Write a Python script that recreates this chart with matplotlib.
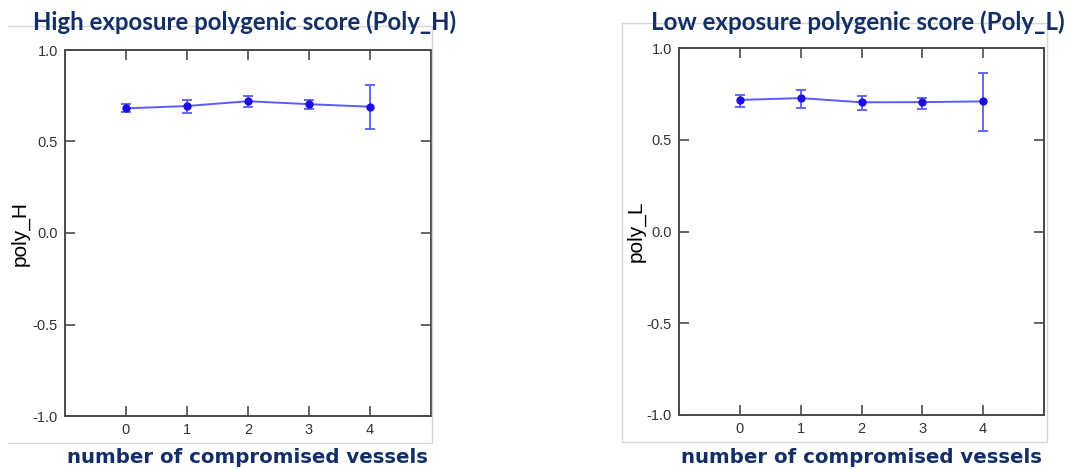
import matplotlib
matplotlib.use("Agg")
import matplotlib.pyplot as plt
from matplotlib.lines import Line2D

# ---- data ----
vessels = [0, 1, 2, 3, 4]
xtick_labels = ["0", "1", "2", "3", "4"]
ytick_values = [-1.0, -0.5, 0.0, 0.5, 1.0]
ytick_labels = ["-1.0", "-0.5", "0.0", "0.5", "1.0"]

poly_H_mean = [0.681, 0.694, 0.720, 0.704, 0.690]
poly_H_low = [0.659, 0.657, 0.689, 0.679, 0.567]
poly_H_high = [0.703, 0.728, 0.749, 0.726, 0.807]

poly_L_mean = [0.717, 0.727, 0.704, 0.705, 0.709]
poly_L_low = [0.679, 0.672, 0.661, 0.668, 0.545]
poly_L_high = [0.746, 0.772, 0.739, 0.730, 0.866]

titles = ["High exposure polygenic score (Poly_H)", "Low exposure polygenic score (Poly_L)"]
ylabels = ["poly_H", "poly_L"]
xlabel = "number of compromised vessels"

W, H = 1072, 470
fig = plt.figure(figsize=(W / 100, H / 100), dpi=100)
fig.patch.set_facecolor("white")
plt.rcParams["axes.unicode_minus"] = False

NAVY = "#132f66"
LINE = "#5a5aff"
MARK = "#1c0ee0"
FRAME = "#4a4a4a"


def px_rect(x0, y0, x1, y1):
    return [x0 / W, 1 - y1 / H, (x1 - x0) / W, (y1 - y0) / H]


def fig_line(xs, ys):
    fig.add_artist(Line2D([x / W for x in xs], [1 - y / H for y in ys],
                          color="#d6d6d6", lw=1.0, transform=fig.transFigure))


# light gray panel frames
fig_line([8, 432, 432, 8], [26, 26, 443, 443])
fig_line([622, 1047, 1047, 622, 622], [23, 23, 442, 442, 23])

renderer = fig.canvas.get_renderer()


def fitted_text(x_center, y_base, s, width_px, **kw):
    t = fig.text(x_center / W, 1 - y_base / H, s, ha="center", va="baseline", **kw)
    fs = kw.get("fontsize", 12)
    for _ in range(3):
        bb = t.get_window_extent(renderer=renderer)
        fs = fs * width_px / bb.width
        t.set_fontsize(fs)
    return t


panels = [
    dict(rect=px_rect(65, 50, 431, 416), mean=poly_H_mean, lo=poly_H_low, hi=poly_H_high,
         title=titles[0], ylabel=ylabels[0], tx=245, tw=424, lx=247, lw=360, yx=20, yy=233),
    dict(rect=px_rect(679, 48, 1044, 415), mean=poly_L_mean, lo=poly_L_low, hi=poly_L_high,
         title=titles[1], ylabel=ylabels[1], tx=858, tw=413, lx=861, lw=358, yx=636, yy=231),
]

for p in panels:
    ax = fig.add_axes(p["rect"])
    yerr = [[m - l for m, l in zip(p["mean"], p["lo"])],
            [h - m for m, h in zip(p["mean"], p["hi"])]]
    ax.errorbar(vessels, p["mean"], yerr=yerr, color=LINE, lw=1.4, elinewidth=1.3,
                capsize=3.6, capthick=1.3, zorder=2)
    ax.plot(vessels, p["mean"], "o", color=MARK, ms=5, zorder=3)
    ax.set_xlim(-1, 5)
    ax.set_ylim(-1, 1)
    ax.set_xticks(vessels)
    ax.set_xticklabels(xtick_labels)
    ax.set_yticks(ytick_values)
    ax.set_yticklabels(ytick_labels)
    ax.tick_params(direction="in", length=7.2, width=1.2, color=FRAME,
                   top=True, right=True, labelsize=10.5, labelcolor="#333333",
                   labelfontfamily="Liberation Sans", pad=5)
    for sp in ax.spines.values():
        sp.set_color(FRAME)
        sp.set_linewidth(1.4)
    fig.text(p["yx"] / W, 1 - p["yy"] / H, p["ylabel"], rotation=90, ha="center",
             va="center", fontsize=15, family="Liberation Sans", color="black")
    fitted_text(p["tx"], 30, p["title"], p["tw"], fontsize=17, fontweight="bold",
                family="Lato", color=NAVY)
    fitted_text(p["lx"], 463, xlabel, p["lw"], fontsize=14, fontweight="bold",
                family="DejaVu Sans", color=NAVY)

fig.savefig("out.png", dpi=100, facecolor="white")
